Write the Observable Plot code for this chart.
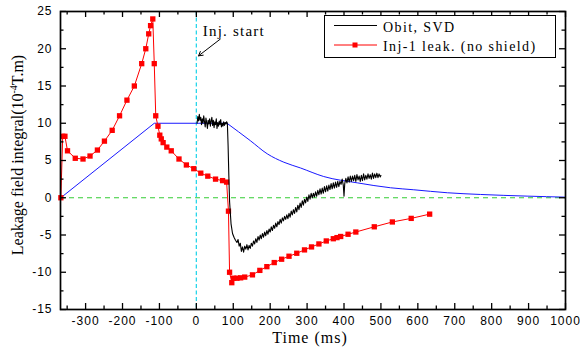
<!DOCTYPE html>
<html><head><meta charset="utf-8">
<script src="https://cdn.jsdelivr.net/npm/d3@7"></script>
<script src="https://cdn.jsdelivr.net/npm/@observablehq/plot@0.6"></script>
<style>
body{margin:0;background:#fff}
#chart{width:580px;height:347px}
#chart svg g[aria-label$="tick label"] text{letter-spacing:1px}
</style>
</head><body><div id="chart"></div>
<script>
// ---- data ----
const redX = [-367, -362, -356, -349, -328, -307, -288, -268, -249, -228, -208, -188, -168, -148, -137, -129, -124, -118, -114, -110, -104, -99, -95, -90, -80, -68, -47, -27, -7, 12, 31, 52, 71, 82, 87, 90, 96, 101, 110, 120, 131, 152, 172, 191, 211, 231, 251, 272, 293, 312, 332, 352, 371, 381, 391, 411, 432, 482, 531, 582, 632];
const redY = [0, 8.25, 8.25, 6.3, 5.3, 5.2, 5.6, 6.4, 7.6, 9.05, 11.0, 13.1, 15.0, 18.0, 20.0, 22.0, 23.1, 24.0, 18.0, 11.0, 9.6, 8.4, 7.9, 7.4, 6.8, 6.3, 5.2, 4.4, 3.9, 3.3, 2.9, 2.5, 2.3, 2.1, -1.8, -10.0, -11.4, -10.8, -10.8, -10.75, -10.65, -10.35, -9.75, -9.25, -8.7, -8.25, -7.85, -7.45, -7.0, -6.6, -6.2, -5.8, -5.5, -5.35, -5.2, -4.9, -4.6, -3.9, -3.25, -2.77, -2.2];

const blueX = [-367, -114, 83, 146, 192, 237, 282, 345, 436, 526, 589, 680, 770, 896, 1000];
const blueY = [0, 10, 10, 7.67, 5.9, 4.77, 4.0, 2.85, 2.0, 1.34, 1.07, 0.67, 0.44, 0.22, 0.08];

const blackX = [2,4,6,8,10,12,14,16,18,20,22,24,26,28,30,32,34,36,38,40,42,44,46,48,50,52,54,56,58,60,62,64,66,68,70,72,74,76,78,80,82,84,
 86,88,90,94,98,102,106,110,113,116,119,122,125,128,131,134,137,140,143,146,149,152,155,158,161,164,167,170,173,176,179,182,185,188,191,194,197,200,
 203,206,209,212,215,218,221,224,227,230,233,236,239,242,245,248,251,254,257,260,263,266,269,272,275,278,281,284,287,290,293,296,299,302,305,308,311,314,317,320,
 323,326,329,332,335,338,341,344,347,350,353,356,359,362,365,368,371,374,377,380,383,386,389,392,395,398,400,402,405,408,411,414,417,420,423,426,429,432,435,438,
 441,444,447,450,453,456,459,462,465,468,471,474,477,480,483,486,489,492,495,498,500];
const blackY = [10.0,10.9,10.3,11.2,10.4,10.8,9.8,10.6,10.0,11.0,10.2,9.5,10.7,10.1,9.3,10.4,9.9,10.6,9.6,10.3,10.8,9.7,10.4,9.4,10.2,9.8,10.6,9.3,10.1,9.6,10.3,9.8,10.5,9.5,10.0,9.6,10.2,9.7,10.1,9.9,10.2,10.0,
 7.0,3.0,-0.5,-3.5,-4.8,-5.3,-5.7,-6.0,-5.6,-6.5,-6.1,-7.2,-6.6,-7.3,-6.5,-6.9,-6.3,-7.0,-6.4,-6.8,-6.1,-6.5,-5.8,-6.2,-5.5,-6.0,-5.2,-5.7,-5.0,-5.5,-4.8,-5.3,-4.6,-5.1,-4.4,-4.9,-4.2,-4.6,
 -3.9,-4.4,-3.7,-4.1,-3.4,-3.9,-3.2,-3.6,-2.9,-3.4,-2.7,-3.1,-2.5,-2.9,-2.3,-2.8,-2.1,-2.6,-1.8,-2.3,-1.6,-2.1,-1.3,-1.9,-1.0,-1.6,-0.7,-1.3,-0.4,-1.0,-0.2,-0.7,0.1,-0.5,0.4,-0.2,0.6,0.0,0.6,0.1,
 0.8,0.2,1.0,0.4,1.2,0.5,1.3,0.6,1.5,0.8,1.6,0.9,1.7,1.1,1.9,1.2,2.0,1.3,2.1,1.4,2.2,1.5,2.2,1.8,2.5,1.7,0.2,1.9,2.6,2.0,2.8,2.1,2.9,2.2,2.9,2.3,3.0,2.2,3.1,2.4,
 2.9,2.2,3.0,2.3,3.2,2.4,3.0,2.5,3.2,2.6,3.1,2.5,3.3,2.6,3.2,2.7,3.3,2.7,3.2,2.8,3.0];

const xTickLabels = [-300,-200,-100,0,100,200,300,400,500,600,700,800,900,1000];
const xMinorTicks = [-350,-250,-150,-50,50,150,250,350,450,550,650,750,850,950];
const yTickLabels = [-15,-10,-5,0,5,10,15,20,25];
const yMinorTicks = [-12.5,-7.5,-2.5,2.5,7.5,12.5,17.5,22.5];

const seriesNames = ["Obit, SVD", "Inj-1 leak. (no shield)"];
const injStart = 0;
const arrowFrom = [65, 21.3], arrowTo = [6, 19.05];
const annotText = "Inj. start", annotPos = [19, 21.7];
const xTitle = "Time (ms)";

// ---- build ----
const W = 580, H = 347, mL = 60, mR = 15, mT = 11, mB = 38;
const fw = W - mL - mR, fh = H - mT - mB;
const red = redX.map((x, i) => ({x, y: redY[i]}));
const blueRamp = blueX.slice(0, 3).map((x, i) => ({x, y: blueY[i]}));
const blueDecay = blueX.slice(2).map((x, i) => ({x, y: blueY[i + 2]}));
const black = blackX.map((x, i) => ({x, y: blackY[i]}));
const serif = "'Liberation Serif', 'Times New Roman', serif";

const plot = Plot.plot({
  width: W, height: H,
  marginLeft: mL, marginRight: mR, marginTop: mT, marginBottom: mB,
  style: {background: "white", fontFamily: "'Liberation Sans', Arial, sans-serif", fontSize: "12px", color: "black"},
  x: {domain: [-368, 1000]},
  y: {domain: [-15, 25]},
  marks: [
    Plot.ruleY([0], {stroke: "#33cc33", strokeWidth: 1, strokeDasharray: "5,4"}),
    Plot.ruleX([injStart], {stroke: "#2ad6ea", strokeWidth: 1.3, strokeDasharray: "4,2.5"}),
    Plot.line(blueRamp, {x: "x", y: "y", stroke: "#1818ff", strokeWidth: 1}),
    Plot.line(blueDecay, {x: "x", y: "y", stroke: "#1818ff", strokeWidth: 1, curve: "monotone-x"}),
    Plot.line(red, {x: "x", y: "y", stroke: "#ff0000", strokeWidth: 1}),
    Plot.dot(red, {x: "x", y: "y", symbol: "square", fill: "#ff0000", r: 3}),
    Plot.line(black, {x: "x", y: "y", stroke: "#000", strokeWidth: 1.1}),
    Plot.arrow([0], {x1: () => arrowFrom[0], y1: () => arrowFrom[1], x2: () => arrowTo[0], y2: () => arrowTo[1],
      stroke: "black", strokeWidth: 1, headLength: 7, bend: 0}),
    // ticks (inward)
    Plot.tickX(xTickLabels, {x: d => d, insetTop: fh - 6, stroke: "black", strokeWidth: 1.3}),
    Plot.tickX(xMinorTicks, {x: d => d, insetTop: fh - 3.5, stroke: "black", strokeWidth: 1.3}),
    Plot.tickX(xTickLabels, {x: d => d, insetBottom: fh - 6, stroke: "black", strokeWidth: 1.3}),
    Plot.tickX(xMinorTicks, {x: d => d, insetBottom: fh - 3.5, stroke: "black", strokeWidth: 1.3}),
    Plot.tickY(yTickLabels, {y: d => d, insetRight: fw - 6, stroke: "black", strokeWidth: 1.3}),
    Plot.tickY(yMinorTicks, {y: d => d, insetRight: fw - 3.5, stroke: "black", strokeWidth: 1.3}),
    Plot.tickY(yTickLabels, {y: d => d, insetLeft: fw - 6, stroke: "black", strokeWidth: 1.3}),
    Plot.tickY(yMinorTicks, {y: d => d, insetLeft: fw - 3.5, stroke: "black", strokeWidth: 1.3}),
    Plot.axisX({ticks: xTickLabels, tickSize: 0, tickPadding: 7, label: null, tickFormat: d => String(d)}),
    Plot.axisY({ticks: yTickLabels, tickSize: 0, tickPadding: 8, label: null, tickFormat: d => String(d)}),
    Plot.frame({stroke: "black", strokeWidth: 1.7})
  ]
});
document.getElementById("chart").appendChild(plot);

const sx = plot.scale("x"), sy = plot.scale("y");
const svg = d3.select(plot);

// annotation
svg.append("text")
  .attr("x", sx.apply(annotPos[0])).attr("y", sy.apply(annotPos[1]))
  .attr("text-anchor", "start")
  .attr("font-family", serif).attr("font-size", 15).style("letter-spacing", "1.2px")
  .attr("fill", "black").text(annotText);

// axis titles
svg.append("text")
  .attr("x", 310).attr("y", 343).attr("text-anchor", "middle")
  .attr("font-family", serif).attr("font-size", 16).style("letter-spacing", "1px")
  .attr("fill", "black").text(xTitle);

const yt = svg.append("text")
  .attr("transform", "translate(23,155) rotate(-90)").attr("text-anchor", "middle")
  .attr("font-family", serif).attr("font-size", 16).attr("fill", "black");
yt.append("tspan").text("Leakage field integral(10");
yt.append("tspan").attr("dy", -6).attr("font-size", 10).text("-4");
yt.append("tspan").attr("dy", 6).text("T.m)");

// legend
const lg = svg.append("g").attr("text-anchor", "start");
lg.append("rect").attr("x", 324.5).attr("y", 15.5).attr("width", 231).attr("height", 42)
  .attr("fill", "white").attr("stroke", "black").attr("stroke-width", 1);
lg.append("line").attr("x1", 334).attr("x2", 377).attr("y1", 25.5).attr("y2", 25.5).attr("stroke", "black");
lg.append("text").attr("x", 383).attr("y", 31.5).attr("text-anchor", "start").attr("font-family", serif).attr("font-size", 14)
  .style("letter-spacing", "1.4px").attr("fill", "black").text(seriesNames[0]);
lg.append("line").attr("x1", 334).attr("x2", 377).attr("y1", 45).attr("y2", 45).attr("stroke", "#ff0000");
lg.append("rect").attr("x", 352.5).attr("y", 42.5).attr("width", 5).attr("height", 5).attr("fill", "#ff0000");
lg.append("text").attr("x", 383).attr("y", 50.5).attr("text-anchor", "start").attr("font-family", serif).attr("font-size", 14)
  .style("letter-spacing", "1.4px").attr("fill", "black").text(seriesNames[1]);
</script>
</body></html>
